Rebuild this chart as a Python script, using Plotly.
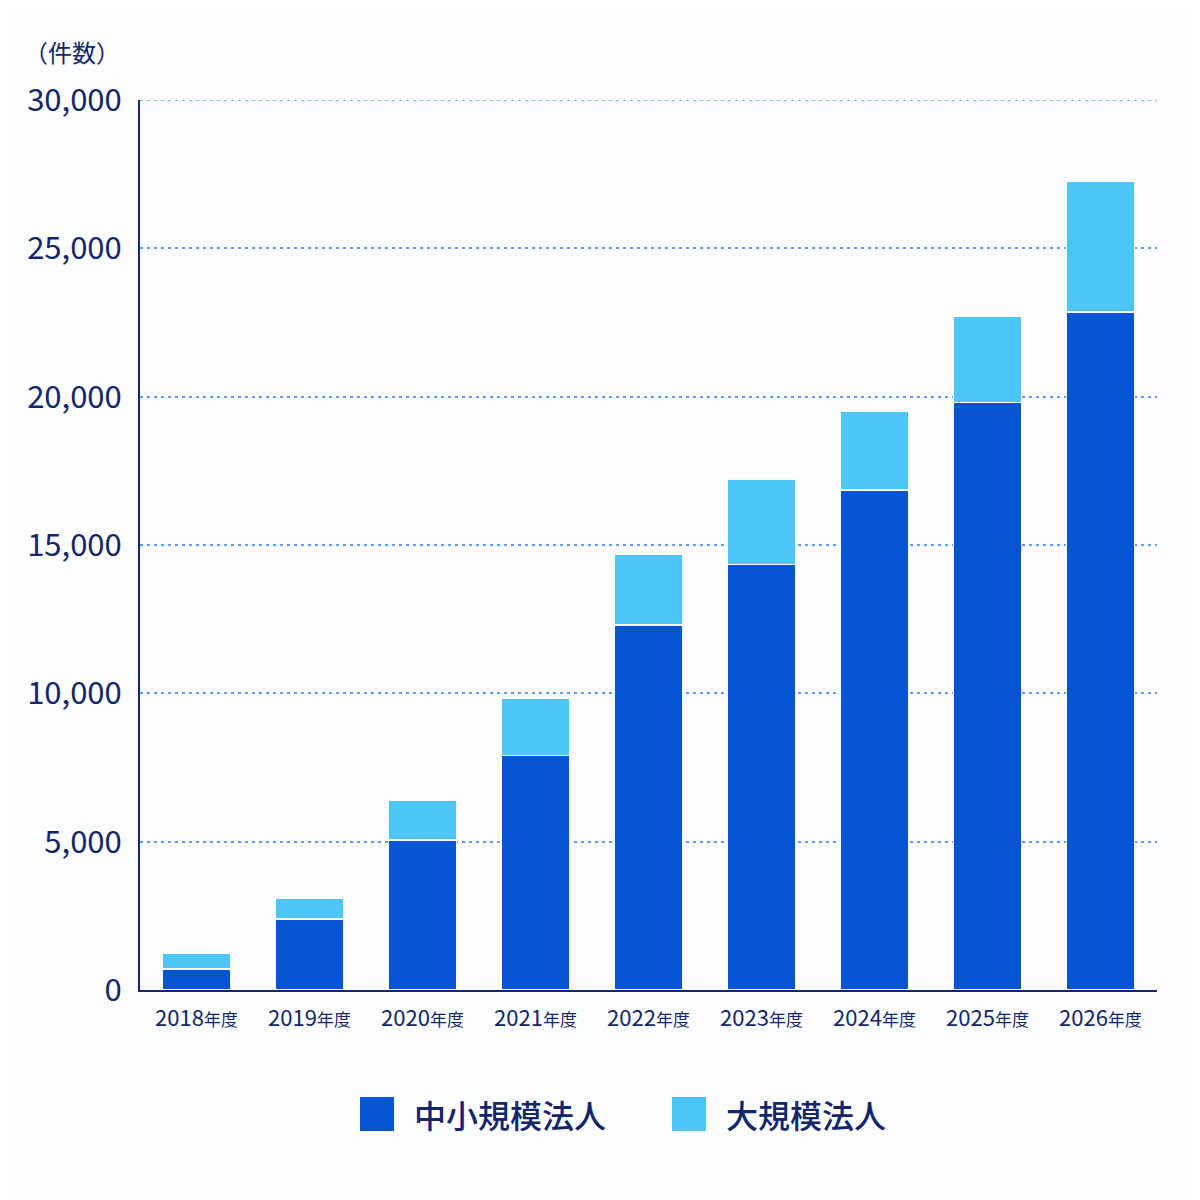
import plotly.graph_objects as go

# Data
years = ["2018年度", "2019年度", "2020年度", "2021年度", "2022年度",
         "2023年度", "2024年度", "2025年度", "2026年度"]
small_mid = [700, 2400, 5050, 7900, 12300, 14350, 16850, 19800, 22850]
large = [550, 700, 1350, 1950, 2400, 2850, 2650, 2900, 4400]
y_ticks = [0, 5000, 10000, 15000, 20000, 25000, 30000]

NAVY = "#13266b"
DARK_BLUE = "#0554d2"
LIGHT_BLUE = "#4cc5f9"
GRID = "#5f9bf6"
FONT = "Noto Sans CJK JP"

# the page puts the figure 8px in from the window corner
OFF = 8
W, H = 1200, 1200
L, R, T, B = 140 - OFF, 43 + OFF, 100 - OFF, 210 + OFF


def px(x):
    return (x - OFF - L) / (W - L - R)


def py(y):
    return (H - B - (y - OFF)) / (H - T - B)


# year digits a bit larger than the 年度 suffix
year_labels = [f"{y[:4]}<span style='font-size:17px'>{y[4:]}</span>" for y in years]

fig = go.Figure()
fig.add_trace(go.Bar(
    x=years, y=small_mid, name="中小規模法人",
    marker=dict(color=DARK_BLUE, line=dict(color="white", width=1.5)),
))
fig.add_trace(go.Bar(
    x=years, y=large, name="大規模法人",
    marker=dict(color=LIGHT_BLUE, line=dict(color="white", width=1.5)),
))

fig.update_layout(
    width=W, height=H,
    barmode="stack",
    bargap=0.4,
    showlegend=False,
    margin=dict(l=L, r=R, t=T, b=B),
    paper_bgcolor="#fcfdfe",
    plot_bgcolor="#fcfdfe",
    font=dict(family=FONT, color=NAVY),
    xaxis=dict(
        tickvals=years, ticktext=year_labels,
        showline=True, linecolor=NAVY, linewidth=2,
        showgrid=False, ticks="",
        tickfont=dict(size=22, color=NAVY),
        ticklabelstandoff=8,
    ),
    yaxis=dict(
        range=[0, 30000], tickvals=y_ticks,
        tickformat=",d",
        showline=True, linecolor=NAVY, linewidth=2,
        showgrid=True, gridcolor=GRID, griddash="3px,4px", gridwidth=1.5,
        zeroline=False, ticks="",
        tickfont=dict(size=31, color=NAVY),
        ticklabelstandoff=10,
    ),
)

# top gridline at the range edge
fig.add_shape(
    type="line", xref="paper", yref="y", x0=0, x1=1, y0=30000, y1=30000,
    line=dict(color=GRID, width=1.5, dash="3px,4px"), layer="below",
)

# unit label
fig.add_annotation(
    text="（件数）", x=px(22), y=py(52), xref="paper", yref="paper",
    xanchor="left", yanchor="middle", showarrow=False,
    font=dict(size=24, color=NAVY, family=FONT),
)

# custom legend
legend_items = [("中小規模法人", DARK_BLUE, 360), ("大規模法人", LIGHT_BLUE, 672)]
for label, color, x0 in legend_items:
    fig.add_shape(
        type="rect", xref="paper", yref="paper",
        x0=px(x0), x1=px(x0 + 34), y0=py(1131), y1=py(1097),
        fillcolor=color, line=dict(width=0),
    )
    fig.add_annotation(
        text=label, x=px(x0 + 52), y=py(1114), xref="paper", yref="paper",
        xanchor="left", yanchor="middle", showarrow=False,
        font=dict(size=32, color=NAVY, family=FONT, weight=500),
    )

fig.write_html("out.html")
